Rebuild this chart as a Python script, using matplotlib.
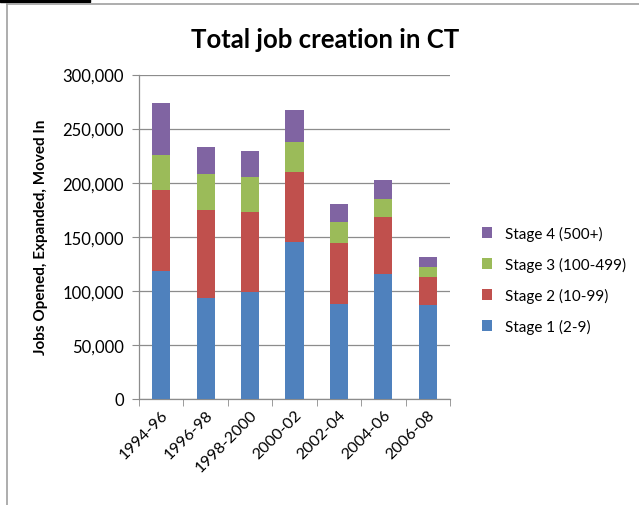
import matplotlib
matplotlib.use("Agg")
import matplotlib.pyplot as plt
from matplotlib.patches import Rectangle
from matplotlib.lines import Line2D
from matplotlib.ticker import FuncFormatter, FixedLocator

periods = ["1994-96", "1996-98", "1998-2000", "2000-02", "2002-04", "2004-06", "2006-08"]
stage1 = [118000, 93000, 99000, 145000, 88000, 115500, 87000]
stage2 = [75000, 82000, 74000, 65000, 56000, 52500, 26000]
stage3 = [32500, 33000, 32000, 28000, 20000, 16500, 9000]
stage4 = [48500, 25000, 24000, 29500, 16000, 18000, 9000]
series_names = ["Stage 1 (2-9)", "Stage 2 (10-99)", "Stage 3 (100-499)", "Stage 4 (500+)"]
colors = ["#4f81bd", "#c0504d", "#9bbb59", "#8064a2"]

plt.rcParams["font.family"] = ["Lato", "DejaVu Sans"]

fig = plt.figure(figsize=(6.39, 5.06), dpi=100)
ax = fig.add_axes([139 / 639, 1 - 400 / 506, (450 - 139) / 639, (400 - 75.5) / 506])

x = list(range(len(periods)))
bottom = [0] * len(periods)
handles = []
for vals, name, col in zip([stage1, stage2, stage3, stage4], series_names, colors):
    b = ax.bar(x, vals, width=0.41, bottom=bottom, color=col, label=name, zorder=3)
    handles.append(b)
    bottom = [a + v for a, v in zip(bottom, vals)]

ax.set_xlim(-0.5, len(periods) - 0.5)
ax.set_ylim(0, 300000)
ax.set_yticks(range(0, 300001, 50000))
ax.yaxis.set_major_formatter(FuncFormatter(lambda v, p: f"{int(v):,}"))
ax.grid(axis="y", color="#8c8c8c", linewidth=0.9, zorder=0)
ax.set_axisbelow(True)

ax.set_xticks(x)
ax.set_xticklabels(periods, rotation=45, ha="right", rotation_mode="anchor", fontsize=11.5)
ax.tick_params(axis="x", length=0, pad=6)
ax.xaxis.set_minor_locator(FixedLocator([i - 0.5 for i in range(len(periods) + 1)]))
ax.tick_params(axis="x", which="minor", length=5, color="#8c8c8c", direction="out")
ax.tick_params(axis="y", length=5, color="#8c8c8c", direction="out", labelsize=12, pad=6)

for s in ["top", "right"]:
    ax.spines[s].set_visible(False)
for s in ["left", "bottom"]:
    ax.spines[s].set_color("#8c8c8c")
    ax.spines[s].set_linewidth(0.9)

ax.set_ylabel("Jobs Opened, Expanded, Moved In", fontsize=11, fontweight="bold", labelpad=10)

fig.text(325 / 639, 1 - 40 / 506, "Total job creation in CT", ha="center", va="center",
         fontsize=18.5, fontweight="bold")

# legend, listed from the top stage down
leg = fig.legend(handles[::-1], series_names[::-1], loc="center left",
                 bbox_to_anchor=(468 / 639, 1 - 281 / 506), frameon=False,
                 fontsize=11, handlelength=0.7, handleheight=0.7,
                 labelspacing=1.05, handletextpad=0.8)

# chart border and header bar
fig.add_artist(Line2D([7 / 639, 1.0], [1 - 5 / 506, 1 - 5 / 506], color="#a0a0a0", lw=1.2,
                      transform=fig.transFigure))
fig.add_artist(Line2D([7 / 639, 7 / 639], [0, 1 - 5 / 506], color="#a0a0a0", lw=1.2,
                      transform=fig.transFigure))
fig.add_artist(Rectangle((0, 1 - 2.5 / 506), 90 / 639, 2.5 / 506, color="black",
                         transform=fig.transFigure))

fig.savefig("out.png", dpi=100)
